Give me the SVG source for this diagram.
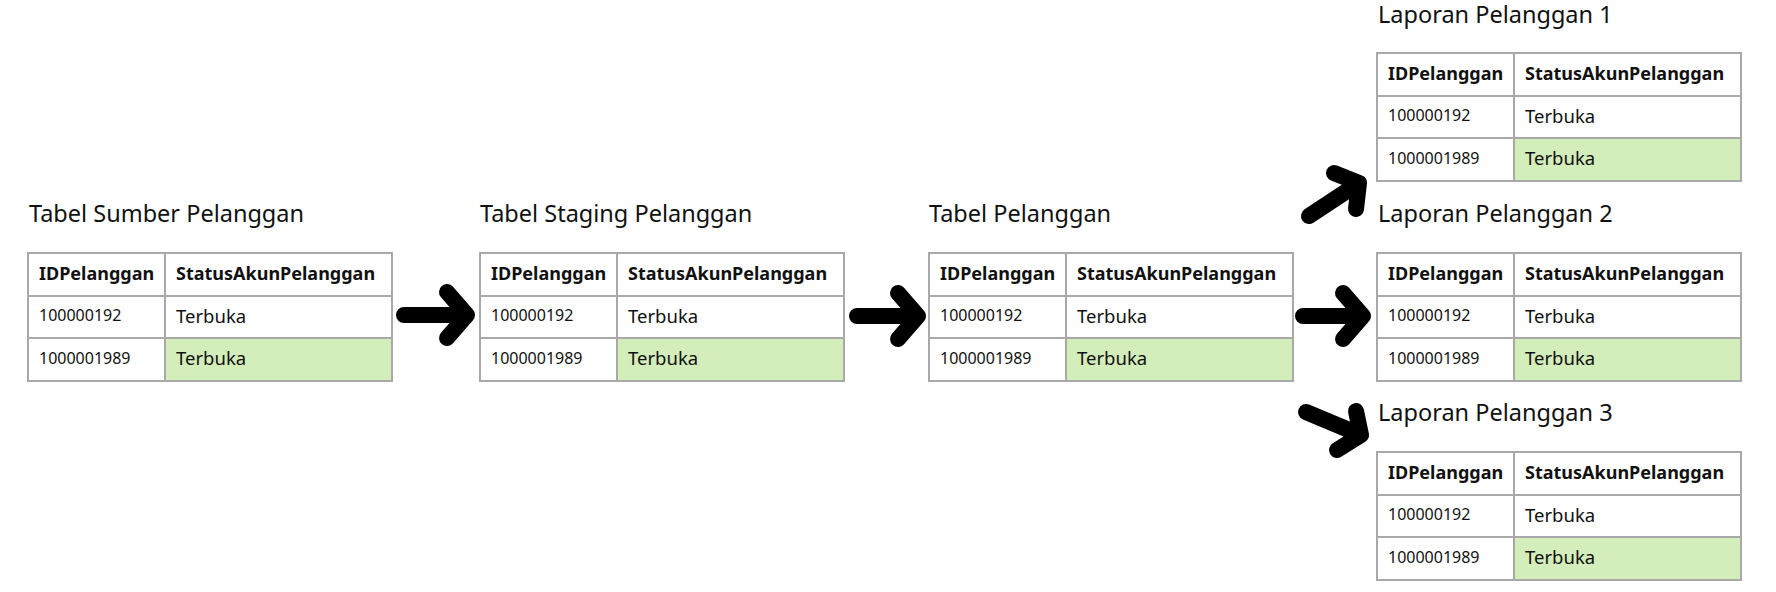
<svg xmlns="http://www.w3.org/2000/svg" width="1776" height="592" viewBox="0 0 1776 592">
<defs>
<style>
.bg{fill:#ffffff}
.cell{fill:#ffffff;stroke:#a9a9a9;stroke-width:2}
.hl{fill:#d3edbb;stroke:#a9a9a9;stroke-width:2}
.title{font-family:"Noto Sans","Open Sans","Liberation Sans",sans-serif;font-size:23.5px;fill:#111}
.hd{font-family:"Noto Sans","Open Sans","Liberation Sans",sans-serif;font-size:18px;font-weight:bold;fill:#111}
.num{font-family:"Noto Sans","Open Sans","Liberation Sans",sans-serif;font-size:16px;fill:#111}
.val{font-family:"Noto Sans","Open Sans","Liberation Sans",sans-serif;font-size:18.5px;fill:#111}
.arr{fill:none;stroke:#000;stroke-width:16;stroke-linecap:round;stroke-linejoin:round}
</style>
<g id="tbl">
<rect class="cell" x="0" y="0" width="137" height="43"/>
<rect class="cell" x="137" y="0" width="227" height="43"/>
<rect class="cell" x="0" y="43" width="137" height="42"/>
<rect class="cell" x="137" y="43" width="227" height="42"/>
<rect class="cell" x="0" y="85" width="137" height="43"/>
<rect class="hl" x="137" y="85" width="227" height="43"/>
<text class="hd" x="11" y="27">IDPelanggan</text>
<text class="hd" x="148" y="27">StatusAkunPelanggan</text>
<text class="num" x="11" y="68">100000192</text>
<text class="val" x="148" y="70">Terbuka</text>
<text class="num" x="11" y="111">1000001989</text>
<text class="val" x="148" y="112">Terbuka</text>
</g>
</defs>
<rect class="bg" x="0" y="0" width="1776" height="592"/>
<g id="sumber">
<text class="title" x="29" y="222">Tabel Sumber Pelanggan</text>
<use href="#tbl" x="28" y="253"/>
</g>
<g id="staging">
<text class="title" x="480" y="222">Tabel Staging Pelanggan</text>
<use href="#tbl" x="480" y="253"/>
</g>
<g id="pelanggan">
<text class="title" x="929" y="222">Tabel Pelanggan</text>
<use href="#tbl" x="929" y="253"/>
</g>
<g id="laporan1">
<text class="title" x="1378" y="23">Laporan Pelanggan 1</text>
<use href="#tbl" x="1377" y="53"/>
</g>
<g id="laporan2">
<text class="title" x="1378" y="222">Laporan Pelanggan 2</text>
<use href="#tbl" x="1377" y="253"/>
</g>
<g id="laporan3">
<text class="title" x="1378" y="421">Laporan Pelanggan 3</text>
<use href="#tbl" x="1377" y="452"/>
</g>
<g id="connectors">
<path class="arr" d="M404 315 H467 M447 292 L467 315 L447 338"/>
<path class="arr" d="M857 316 H918 M898 293 L918 316 L898 339"/>
<path class="arr" d="M1303 316 H1363 M1343 293 L1363 316 L1343 339"/>
<path class="arr" d="M1309 216 L1359 183 M1334 173 L1359 183 L1356 209"/>
<path class="arr" d="M1306 412 L1361 435 M1356 411 L1361 435 L1337 450"/>
</g>
</svg>
